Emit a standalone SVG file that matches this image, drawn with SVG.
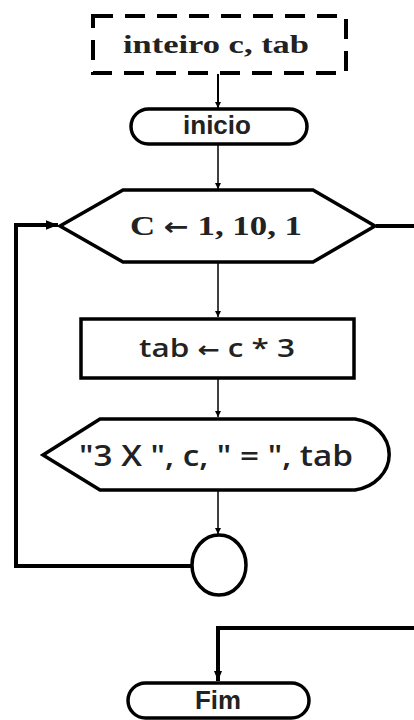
<svg xmlns="http://www.w3.org/2000/svg" width="414" height="720" viewBox="0 0 414 720">
<style>
.node{fill:#fff;stroke:#000;stroke-width:3.5}
.thin{fill:none;stroke:#000;stroke-width:1.5}
.thick{fill:none;stroke:#000;stroke-width:4}
.serif{font-family:"Liberation Serif","DejaVu Serif",serif;font-weight:bold;fill:#222;text-anchor:middle}
.sans{font-family:"Liberation Sans",Arial,sans-serif;font-weight:bold;fill:#222;text-anchor:middle}
.cal{font-family:"Open Sans","Liberation Sans",sans-serif;font-weight:600;fill:#222;text-anchor:middle}
.arr{font-family:"DejaVu Sans",sans-serif;font-weight:bold}
</style>
<defs>
<marker id="a" viewBox="0 0 10 10" refX="10" refY="5" markerWidth="6" markerHeight="7" markerUnits="userSpaceOnUse" orient="auto"><path d="M0,0 L10,5 L0,10 Z" fill="#000"/></marker>
<marker id="ab" viewBox="0 0 10 10" refX="10" refY="5" markerWidth="12" markerHeight="12" markerUnits="userSpaceOnUse" orient="auto"><path d="M0,1 L10,5 L0,9 Z" fill="#000"/></marker>
<marker id="am" viewBox="0 0 10 10" refX="10" refY="5" markerWidth="10" markerHeight="12" markerUnits="userSpaceOnUse" orient="auto"><path d="M0,1 L10,5 L0,9 Z" fill="#000"/></marker>
</defs>
<g id="connectors">
<path class="thin" d="M218,74 V108" marker-end="url(#a)" style="stroke-width:2"/>
<path class="thin" d="M218,145 V189" marker-end="url(#a)"/>
<path class="thin" d="M218,262 V317" marker-end="url(#a)"/>
<path class="thin" d="M218,379 V417" marker-end="url(#a)"/>
<path class="thin" d="M218,491 V534" marker-end="url(#a)"/>
<path class="thick" d="M192,566 H16 V225 H58" marker-end="url(#ab)"/>
<path class="thick" d="M376,226 H414"/>
<path class="thick" d="M414,628 H218 V681" marker-end="url(#am)"/>
</g>
<g id="decl">
<rect x="93" y="16" width="253" height="57" fill="#fff" stroke="#000" stroke-width="4" stroke-dasharray="20 12"/>
<text class="serif" x="216" y="53" font-size="25" textLength="186" lengthAdjust="spacingAndGlyphs">inteiro  c, tab</text>
</g>
<g id="inicio">
<rect class="node" x="131" y="109" width="176" height="35" rx="17.5"/>
<text class="sans" x="217" y="134" font-size="25" textLength="68" lengthAdjust="spacingAndGlyphs">inicio</text>
</g>
<g id="loop">
<path class="node" d="M60,226 L123,190 L313,190 L375,226 L313,262 L123,262 Z"/>
<text class="serif" x="216" y="235" font-size="28" textLength="172" lengthAdjust="spacingAndGlyphs">C <tspan class="arr" font-size="24">←</tspan> 1, 10, 1</text>
</g>
<g id="assign">
<rect class="node" x="81" y="319" width="273" height="59"/>
<text class="cal" x="217" y="357" font-size="26" textLength="156" lengthAdjust="spacingAndGlyphs">tab <tspan class="arr" font-size="22">←</tspan> c * 3</text>
</g>
<g id="display">
<path class="node" d="M100,419 L355,419 A41,36 0 0 1 355,490 L100,490 L43,455 Z"/>
<text class="cal" x="216" y="466" font-size="28" textLength="274" lengthAdjust="spacingAndGlyphs">"3 X ", c, " = ", tab</text>
</g>
<g id="connector-circle">
<ellipse class="node" cx="219" cy="565" rx="27" ry="30"/>
</g>
<g id="fim">
<rect class="node" x="128" y="683" width="181" height="35" rx="17.5"/>
<text class="sans" x="218" y="709" font-size="26" textLength="46" lengthAdjust="spacingAndGlyphs">Fim</text>
</g>
</svg>
